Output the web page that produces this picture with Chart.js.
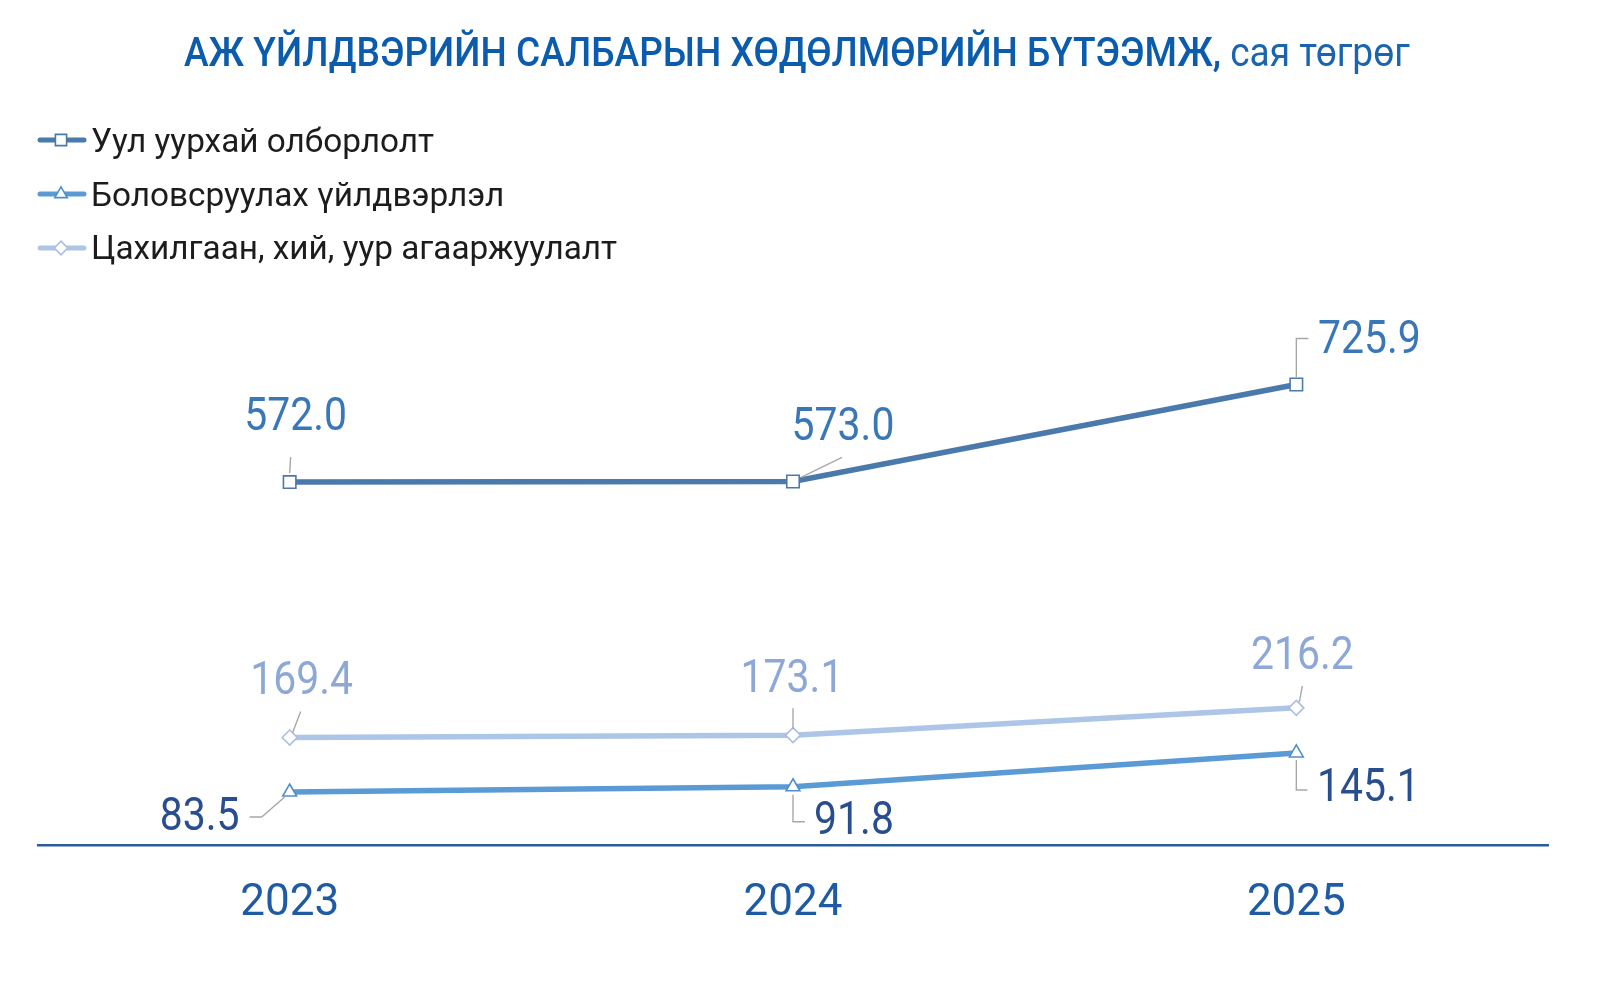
<!DOCTYPE html>
<html><head><meta charset="utf-8">
<script src="https://cdn.jsdelivr.net/npm/chart.js@4.4.1/dist/chart.umd.min.js"></script>
<style>html,body{margin:0;padding:0;background:#fff;}canvas{display:block}</style>
</head><body>
<canvas id="c" width="1600" height="986" style="width:1600px;height:986px"></canvas>
<script>
const categories = ['2023', '2024', '2025'];
const miningValues = [572.0, 573.0, 725.9];
const manufacturingValues = [83.5, 91.8, 145.1];
const electricityValues = [169.4, 173.1, 216.2];
const seriesNames = ['Уул уурхай олборлолт', 'Боловсруулах үйлдвэрлэл', 'Цахилгаан, хий, уур агааржуулалт'];
const titleMain = 'АЖ ҮЙЛДВЭРИЙН САЛБАРЫН ХӨДӨЛМӨРИЙН БҮТЭЭМЖ,';
const titleUnit = ' сая төгрөг';

// styles
const seriesColors = ['#4a79ab', '#5b9bd5', '#adc5e6'];
const markerColors = ['#4a79ab', '#4f8fd0', '#aabfe0'];
const labelColors = ['#3a77b7', '#294e90', '#8da8d7'];
const pointStyles = ['rect', 'triangle', 'rectRot'];
const pointRadii = [8.8, 8, 7.5];
const labelPlacement = [
  [{dx: 6, dy: -65, leader: [[0, -9], [1, -25]]}, {dx: 50, dy: -54, leader: [[8, -4], [49, -24]]}, {dx: 73, dy: -44, leader: [[0, -7], [0, -46], [12, -46]]}],
  [{dx: -90, dy: 25, leader: [[-5, 5], [-28, 25], [-40, 25]]}, {dx: 61, dy: 35, leader: [[0, 8], [0, 35], [12, 35]]}, {dx: 72, dy: 36, leader: [[0, 7], [0, 37], [11, 37]]}],
  [{dx: 12, dy: -56, leader: [[3, -5], [11, -26]]}, {dx: -1, dy: -56, leader: [[0, -6], [0, -27]]}, {dx: 6, dy: -51, leader: [[3, -6], [6, -22]]}]
];

function drawScaled(ctx, text, x, y, sx, align) {
  ctx.save();
  ctx.translate(x, y);
  ctx.scale(sx, 1);
  ctx.textAlign = align;
  ctx.fillText(text, 0, 0);
  ctx.restore();
}

const titlePlugin = {
  id: 'titleLegend',
  afterDraw(chart) {
    const ctx = chart.ctx;
    ctx.save();
    ctx.textBaseline = 'alphabetic';
    // title
    ctx.fillStyle = '#0b5cad';
    ctx.font = '500 40px Roboto';
    const wMain = ctx.measureText(titleMain).width;
    const sx = 1037 / wMain;
    drawScaled(ctx, titleMain, 184, 66, sx, 'left');
    ctx.font = '400 40px Roboto';
    ctx.fillStyle = '#1a64b0';
    drawScaled(ctx, titleUnit, 184 + 1037, 66, sx, 'left');
    // legend
    ctx.font = '400 34px Roboto';
    const w0 = ctx.measureText(seriesNames[0]).width;
    const lsx = 343 / w0;
    const rows = [140, 194, 248];
    const baselines = [152, 206, 259];
    chart.data.datasets.forEach((ds, i) => {
      const y = rows[i];
      ctx.strokeStyle = ds.borderColor;
      ctx.lineWidth = 5;
      ctx.lineCap = 'round';
      ctx.beginPath();
      ctx.moveTo(40, y);
      ctx.lineTo(84, y);
      ctx.stroke();
      ctx.fillStyle = '#ffffff';
      ctx.strokeStyle = ds.pointBorderColor;
      ctx.lineWidth = 1.6;
      Chart.helpers.drawPoint(ctx, {pointStyle: ds.pointStyle, radius: ds.pointRadius * 0.9, borderWidth: 1.6}, 61, y);
      ctx.fillStyle = '#1c1c1c';
      drawScaled(ctx, seriesNames[i], 91, baselines[i], lsx, 'left');
    });
    ctx.restore();
  }
};

const valueLabelPlugin = {
  id: 'valueLabels',
  afterDatasetsDraw(chart) {
    const ctx = chart.ctx;
    ctx.save();
    chart.data.datasets.forEach((ds, i) => {
      const meta = chart.getDatasetMeta(i);
      meta.data.forEach((pt, j) => {
        const pl = labelPlacement[i][j];
        ctx.strokeStyle = '#a8a8a8';
        ctx.lineWidth = 1.4;
        ctx.beginPath();
        pl.leader.forEach((p, k) => {
          if (k === 0) ctx.moveTo(pt.x + p[0], pt.y + p[1]);
          else ctx.lineTo(pt.x + p[0], pt.y + p[1]);
        });
        ctx.stroke();
        ctx.fillStyle = labelColors[i];
        ctx.font = '400 46px Roboto';
        ctx.textBaseline = 'middle';
        drawScaled(ctx, ds.data[j].toFixed(1), pt.x + pl.dx, pt.y + pl.dy + 1, 0.89, 'center');
      });
    });
    ctx.restore();
  }
};

const seriesValues = [miningValues, manufacturingValues, electricityValues];
const datasets = seriesValues.map((vals, i) => ({
  label: seriesNames[i],
  data: vals,
  borderColor: seriesColors[i],
  backgroundColor: seriesColors[i],
  borderWidth: 5.5,
  pointStyle: pointStyles[i],
  pointRadius: pointRadii[i],
  pointBackgroundColor: '#ffffff',
  pointBorderColor: markerColors[i],
  pointBorderWidth: 1.6,
  tension: 0,
  fill: false
}));

function build() {
  new Chart(document.getElementById('c'), {
    type: 'line',
    data: {labels: categories, datasets: datasets},
    options: {
      responsive: false,
      animation: false,
      devicePixelRatio: 1,
      layout: {padding: {left: 38, right: 52, top: 274, bottom: 0}},
      plugins: {legend: {display: false}, title: {display: false}, tooltip: {enabled: false}},
      scales: {
        x: {
          offset: true,
          grid: {display: false, drawTicks: false},
          border: {display: true, color: '#2b5e98', width: 2.5},
          ticks: {color: '#1f5ba3', font: {family: 'Roboto', size: 44, weight: '400'}, padding: 33},
          afterFit: (s) => { s.height = 141; }
        },
        y: {display: false, min: 0, max: 900}
      }
    },
    plugins: [titlePlugin, valueLabelPlugin]
  });
}
if (document.fonts && document.fonts.load) {
  Promise.all([document.fonts.load('400 40px Roboto'), document.fonts.load('500 40px Roboto')]).then(build, build);
} else { build(); }
</script>
</body></html>
